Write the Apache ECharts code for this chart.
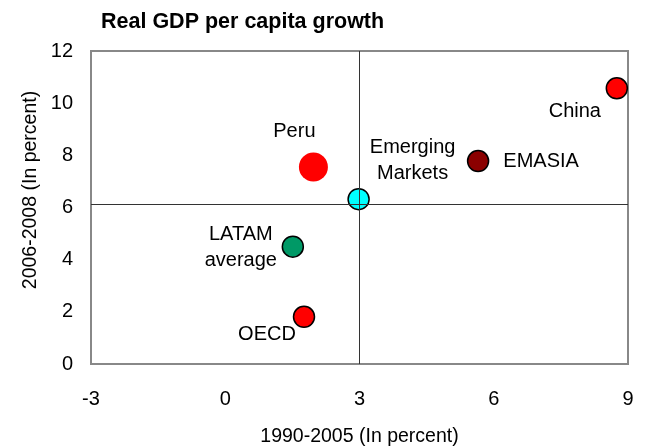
<!DOCTYPE html>
<html>
<head>
<meta charset="utf-8"/>
<title>Real GDP per capita growth</title>
<script src="https://cdn.jsdelivr.net/npm/echarts@6/dist/echarts.min.js"></script>
<style>
  html, body { margin: 0; padding: 0; background: #fff; }
  #main { width: 646px; height: 446px; }
</style>
</head>
<body>
<div id="main"></div>
<script type="text/javascript">
// data
var names = ['Peru', 'Emerging\nMarkets', 'EMASIA', 'China', 'LATAM\naverage', 'OECD'];
var growth9005 = [1.97, 2.98, 5.65, 8.75, 1.51, 1.76];   // x: 1990-2005
var growth0608 = [7.55, 6.32, 7.78, 10.57, 4.5, 1.81];  // y: 2006-2008
var xTicks = [-3, 0, 3, 6, 9];
var yTicks = [0, 2, 4, 6, 8, 10, 12];
var crossX = 3;
var crossY = 6.13;

var font = 'Liberation Sans, Arial, sans-serif';

// look of each marker / label
var look = {
    'Peru':             {color: '#ff0000', size: 29, border: 0, offset: [-19, -36]},
    'Emerging\nMarkets': {color: '#00ffff', size: 21, border: 1.5, offset: [54, -39]},
    'EMASIA':           {color: '#8b0000', size: 21, border: 1.5, offset: [63, 0]},
    'China':            {color: '#ff0000', size: 21, border: 1.5, offset: [-42, 23]},
    'LATAM\naverage':   {color: '#009966', size: 21, border: 1.5, offset: [-52, 1]},
    'OECD':             {color: '#ff0000', size: 21, border: 1.5, offset: [-37, 18]}
};

var points = [];
for (var i = 0; i < names.length; i++) {
    var lk = look[names[i]];
    points.push({
        name: names[i],
        value: [growth9005[i], growth0608[i]],
        symbolSize: lk.size,
        itemStyle: {color: lk.color, borderColor: '#000', borderWidth: lk.border, opacity: 1},
        label: {offset: lk.offset}
    });
}

var myChart = echarts.init(document.getElementById('main'));
var option = {
    animation: false,
    title: {
        text: 'Real GDP per capita growth',
        left: 96,
        top: 6,
        textStyle: {fontFamily: font, fontSize: 21.5, fontWeight: 'bold', color: '#000'}
    },
    graphic: [{
        // y axis title, sits a bit above the plot middle
        type: 'text',
        x: 31,
        y: 190,
        rotation: Math.PI / 2,
        style: {
            text: '2006-2008 (In percent)',
            font: '19.5px ' + font,
            fill: '#000',
            align: 'center',
            verticalAlign: 'middle'
        }
    }],
    grid: {
        left: 91, right: 18, top: 51, bottom: 82,
        outerBoundsMode: 'none',
        show: true,
        borderColor: '#888',
        borderWidth: 2
    },
    xAxis: {
        type: 'value',
        min: xTicks[0],
        max: xTicks[xTicks.length - 1],
        interval: 3,
        name: '1990-2005 (In percent)',
        nameLocation: 'middle',
        nameGap: 63,
        nameTextStyle: {fontFamily: font, fontSize: 19.5, color: '#000'},
        axisLine: {show: false},
        axisTick: {show: false},
        splitLine: {show: false},
        axisLabel: {fontFamily: font, fontSize: 20, color: '#000', margin: 25}
    },
    yAxis: {
        type: 'value',
        min: yTicks[0],
        max: yTicks[yTicks.length - 1],
        interval: 2,
        axisLine: {show: false},
        axisTick: {show: false},
        splitLine: {show: false},
        axisLabel: {fontFamily: font, fontSize: 20, color: '#000', margin: 18}
    },
    series: [
        {
            // the two cross lines
            type: 'scatter',
            data: [],
            z: 1,
            markLine: {
                silent: true,
                symbol: 'none',
                label: {show: false},
                lineStyle: {color: '#333', width: 1, type: 'solid'},
                data: [{xAxis: crossX}, {yAxis: crossY}]
            }
        },
        {
            type: 'scatter',
            z: 3,
            data: points,
            label: {
                show: true,
                position: 'inside',
                formatter: '{b}',
                fontFamily: font,
                fontSize: 20,
                lineHeight: 26,
                color: '#000'
            }
        }
    ]
};
myChart.setOption(option);
</script>
</body>
</html>
